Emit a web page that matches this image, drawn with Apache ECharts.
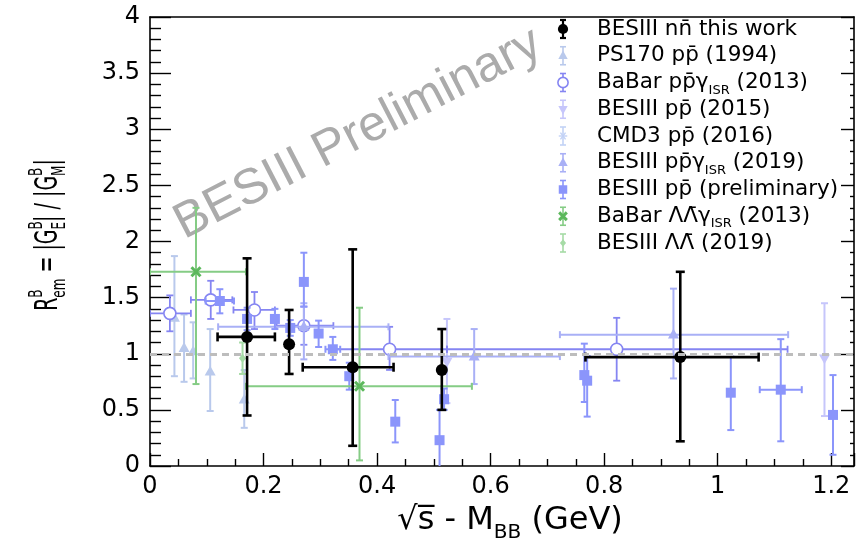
<!DOCTYPE html>
<html>
<head>
<meta charset="utf-8">
<script src="https://cdn.jsdelivr.net/npm/echarts@6/dist/echarts.min.js"></script>
<style>
html, body { margin: 0; padding: 0; background: #fff; }
#chart { width: 860px; height: 543px; }
</style>
</head>
<body>
<div id="chart"></div>
<script>
// each point: [x, y, xLow, xHigh, yLow, yHigh]
const nnThisWork = [
  [0.171, 1.15, 0.119, 0.220, 0.45, 1.85],
  [0.245, 1.085, 0.245, 0.245, 0.82, 1.39],
  [0.357, 0.88, 0.269, 0.429, 0.18, 1.93],
  [0.514, 0.856, 0.514, 0.514, 0.50, 1.22],
  [0.934, 0.97, 0.767, 1.072, 0.22, 1.73]
];
const ps170 = [
  [0.043, 1.32, 0.043, 0.043, 0.80, 1.87],
  [0.060, 1.05, 0.060, 0.060, 0.75, 1.35],
  [0.076, 1.02, 0.076, 0.076, 0.78, 1.28],
  [0.106, 0.84, 0.106, 0.106, 0.49, 1.22],
  [0.166, 0.59, 0.166, 0.166, 0.34, 0.855]
];
const babarPP = [
  [0.035, 1.36, 0.000, 0.072, 1.20, 1.52],
  [0.107, 1.48, 0.072, 0.145, 1.31, 1.65],
  [0.184, 1.39, 0.147, 0.220, 1.22, 1.55],
  [0.271, 1.25, 0.223, 0.323, 1.08, 1.42],
  [0.422, 1.04, 0.323, 0.523, 0.856, 1.24],
  [0.822, 1.04, 0.523, 1.123, 0.76, 1.32]
];
const besiii2015 = [
  [0.523, 0.93, 0.523, 0.523, 0.56, 1.31],
  [1.188, 0.96, 1.188, 1.188, 0.445, 1.45]
];
const cmd3 = [];
const besiiiIsr2019 = [
  [0.271, 1.24, 0.120, 0.420, 0.95, 1.45],
  [0.571, 0.975, 0.420, 0.722, 0.73, 1.22],
  [0.922, 1.17, 0.722, 1.124, 0.78, 1.58]
];
const besiiiPrelim = [
  [0.123, 1.47, 0.098, 0.148, 1.36, 1.575],
  [0.171, 1.31, 0.171, 0.171, 1.21, 1.41],
  [0.220, 1.31, 0.220, 0.220, 1.22, 1.40],
  [0.247, 1.23, 0.247, 0.247, 1.16, 1.30],
  [0.271, 1.64, 0.271, 0.271, 1.42, 1.90],
  [0.297, 1.18, 0.297, 0.297, 1.06, 1.295],
  [0.322, 1.04, 0.309, 0.335, 0.945, 1.15],
  [0.351, 0.80, 0.351, 0.351, 0.68, 0.92],
  [0.432, 0.395, 0.432, 0.432, 0.21, 0.588],
  [0.510, 0.23, 0.510, 0.510, -0.1, 0.50],
  [0.518, 0.595, 0.518, 0.518, 0.50, 0.69],
  [0.765, 0.81, 0.765, 0.765, 0.57, 1.09],
  [0.770, 0.76, 0.770, 0.770, 0.44, 0.98],
  [1.023, 0.653, 1.023, 1.023, 0.32, 0.975],
  [1.111, 0.68, 1.074, 1.148, 0.22, 1.13],
  [1.203, 0.455, 1.203, 1.203, 0.10, 0.81]
];
const babarLL = [
  [0.081, 1.73, 0.000, 0.169, 0.73, 2.30],
  [0.369, 0.71, 0.169, 0.567, 0.05, 1.41]
];
const besiiiLL2019 = [
  [0.163, 0.96, 0.163, 0.163, 0.82, 1.10]
];
const refValue = 1;

const xTickLabels = ['0', '0.2', '0.4', '0.6', '0.8', '1', '1.2'];
const yTickLabels = ['0', '0.5', '1', '1.5', '2', '2.5', '3', '3.5', '4'];

const legendRows = [
  [['BESIII nn\u0304 this work']],
  [['PS170 pp\u0304 (1994)']],
  [['BaBar pp\u0304\u03b3'], ['ISR', 'sub'], [' (2013)']],
  [['BESIII pp\u0304 (2015)']],
  [['CMD3 pp\u0304 (2016)']],
  [['BESIII pp\u0304\u03b3'], ['ISR', 'sub'], [' (2019)']],
  [['BESIII pp\u0304 (preliminary)']],
  [['BaBar \u039b\u039b\u0304\u03b3'], ['ISR', 'sub'], [' (2013)']],
  [['BESIII \u039b\u039b\u0304 (2019)']]
];

// 画图用的样式（和数据分开）
const sets = [
  { key: 'nn', data: nnThisWork, color: '#000000', marker: 'dot', size: 6, lw: 2.6, cap: 4.5, leg: 0 },
  { key: 'ps170', data: ps170, color: '#b9c9ec', marker: 'up', size: 5.5, lw: 2, cap: 3.5, leg: 1 },
  { key: 'babarPP', data: babarPP, color: '#8585f2', marker: 'ring', size: 6, lw: 1.8, cap: 3.5, leg: 2 },
  { key: 'bes15', data: besiii2015, color: '#c6c6fb', marker: 'down', size: 5.5, lw: 2, cap: 3.5, leg: 3 },
  { key: 'cmd3', data: cmd3, color: '#c2d2f6', marker: 'star', size: 5, lw: 2, cap: 3.5, leg: 4 },
  { key: 'bes19', data: besiiiIsr2019, color: '#a9b0f6', marker: 'up', size: 5.5, lw: 2, cap: 3.5, leg: 5 },
  { key: 'besPre', data: besiiiPrelim, color: '#8b95fb', marker: 'square', size: 5, lw: 2, cap: 3.5, leg: 6 },
  { key: 'babarLL', data: babarLL, color: '#85cc85', marker: 'cross', size: 4.5, lw: 2, cap: 3.5, leg: 7 },
  { key: 'besLL', data: besiiiLL2019, color: '#a6dba6', marker: 'diamond', size: 4.5, lw: 2, cap: 3.5, leg: 8 }
];
const drawOrder = ['ps170', 'cmd3', 'bes15', 'babarPP', 'bes19', 'besPre', 'babarLL', 'besLL', 'ref', 'nn'];

function markerEl(kind, cx, cy, s, color) {
  switch (kind) {
    case 'dot':
      return { type: 'circle', shape: { cx: cx, cy: cy, r: s }, style: { fill: color } };
    case 'ring':
      return { type: 'circle', shape: { cx: cx, cy: cy, r: s }, style: { fill: '#fff', stroke: color, lineWidth: 1.6 } };
    case 'up':
      return { type: 'polygon', shape: { points: [[cx, cy - s * 1.1], [cx - s, cy + s * 0.7], [cx + s, cy + s * 0.7]] }, style: { fill: color } };
    case 'down':
      return { type: 'polygon', shape: { points: [[cx, cy + s * 1.1], [cx - s, cy - s * 0.7], [cx + s, cy - s * 0.7]] }, style: { fill: color } };
    case 'square':
      return { type: 'rect', shape: { x: cx - s, y: cy - s, width: 2 * s, height: 2 * s }, style: { fill: color } };
    case 'diamond':
      return { type: 'polygon', shape: { points: [[cx, cy - s], [cx + s * 0.8, cy], [cx, cy + s], [cx - s * 0.8, cy]] }, style: { fill: color } };
    case 'cross':
      return {
        type: 'group', children: [
          { type: 'line', shape: { x1: cx - s, y1: cy - s, x2: cx + s, y2: cy + s }, style: { stroke: '#5cb85c', lineWidth: 3 } },
          { type: 'line', shape: { x1: cx - s, y1: cy + s, x2: cx + s, y2: cy - s }, style: { stroke: '#5cb85c', lineWidth: 3 } }
        ]
      };
    case 'star':
      return {
        type: 'group', children: [
          { type: 'line', shape: { x1: cx - s, y1: cy, x2: cx + s, y2: cy }, style: { stroke: color, lineWidth: 1.4 } },
          { type: 'line', shape: { x1: cx - s * 0.6, y1: cy - s * 0.8, x2: cx + s * 0.6, y2: cy + s * 0.8 }, style: { stroke: color, lineWidth: 1.4 } },
          { type: 'line', shape: { x1: cx - s * 0.6, y1: cy + s * 0.8, x2: cx + s * 0.6, y2: cy - s * 0.8 }, style: { stroke: color, lineWidth: 1.4 } }
        ]
      };
  }
  return null;
}

function seg(x1, y1, x2, y2, st) {
  return { type: 'line', shape: { x1: x1, y1: y1, x2: x2, y2: y2 }, style: st };
}

function errRender(set) {
  return function (params, api) {
    const x = api.value(0), y = api.value(1);
    const p = api.coord([x, y]);
    const xl = api.coord([api.value(2), y])[0];
    const xh = api.coord([api.value(3), y])[0];
    const yl = api.coord([x, api.value(4)])[1];
    const yh = api.coord([x, api.value(5)])[1];
    const st = { stroke: set.color, lineWidth: set.lw };
    const c = set.cap;
    const kids = [];
    if (xh - xl > 1) {
      kids.push(seg(xl, p[1], xh, p[1], st));
      kids.push(seg(xl, p[1] - c, xl, p[1] + c, st));
      kids.push(seg(xh, p[1] - c, xh, p[1] + c, st));
    }
    kids.push(seg(p[0], yl, p[0], yh, st));
    kids.push(seg(p[0] - c, yl, p[0] + c, yl, st));
    kids.push(seg(p[0] - c, yh, p[0] + c, yh, st));
    kids.push(markerEl(set.marker, p[0], p[1], set.size, set.color));
    return { type: 'group', children: kids };
  };
}

// 文字宽度，用来排上下标
const measureCtx = document.createElement('canvas').getContext('2d');
function textWidth(s, size, family) {
  measureCtx.font = size + 'px ' + family;
  return measureCtx.measureText(s).width;
}
function layoutPieces(parts, size, family, centered) {
  let w = 0;
  const items = parts.map(function (pt) {
    const kind = pt[1];
    const fs = kind ? Math.round(size * 0.62) : size;
    const dy = kind === 'sub' ? size * 0.36 : (kind === 'supz' ? -size * 0.40 : 0);
    const it = { text: pt[0], fs: fs, dy: dy, x: w };
    if (kind !== 'supz') w += textWidth(pt[0], fs, family);
    return it;
  });
  const off = centered ? -w / 2 : 0;
  return items.map(function (it) {
    return {
      type: 'text', x: it.x + off, y: it.dy,
      style: { text: it.text, fontSize: it.fs, fontFamily: family, fill: '#000', align: 'left', verticalAlign: 'middle' }
    };
  });
}

const FONT = '"DejaVu Sans"';
const graphics = [];

// 水印
graphics.push({
  type: 'text', x: 358, y: 134, rotation: 0.478, z: 0, silent: true,
  style: { text: 'BESIII Preliminary', fontSize: 50, fontFamily: '"Liberation Sans"', fill: '#ababab', align: 'center', verticalAlign: 'middle' }
});

// 坐标轴标题（纵向的字在原图里被横向拉宽了，所以里面再套一层缩放）
graphics.push({
  type: 'group', x: 49, y: 235, rotation: Math.PI / 2, z: 50,
  children: [{
    type: 'group', scaleX: 1, scaleY: 1.65,
    children: layoutPieces([['R'], ['B', 'supz'], ['em', 'sub'], [' = |G'], ['B', 'supz'], ['E', 'sub'], ['| / |G'], ['B', 'supz'], ['M', 'sub'], ['|']], 19, FONT, true)
  }]
});
graphics.push({
  type: 'group', x: 510, y: 521, z: 50,
  children: layoutPieces([['\u221as\u0305 - M'], ['BB', 'sub'], [' (GeV)']], 32, FONT, true)
});

// 图例
const legX = 563, legTextX = 597, legY0 = 29, legStep = 26.75;
sets.forEach(function (set) {
  const cy = legY0 + set.leg * legStep;
  const st = { stroke: set.color, lineWidth: set.lw > 2 ? 2.2 : 1.6 };
  graphics.push({
    type: 'group', z: 100,
    children: [
      seg(legX, cy - 9, legX, cy + 9, st),
      seg(legX - 3, cy - 9, legX + 3, cy - 9, st),
      seg(legX - 3, cy + 9, legX + 3, cy + 9, st),
      markerEl(set.marker, legX, cy, set.size * 0.85, set.color)
    ]
  });
  graphics.push({
    type: 'group', x: legTextX, y: cy, z: 100,
    children: layoutPieces(legendRows[set.leg], 21.5, FONT, false)
  });
});

const series = drawOrder.map(function (key) {
  if (key === 'ref') {
    return {
      type: 'line', data: [], silent: true,
      markLine: {
        symbol: 'none', silent: true, label: { show: false },
        lineStyle: { color: '#bdbdbd', type: [7, 5], width: 3 },
        data: [{ yAxis: refValue }]
      }
    };
  }
  const set = sets.find(function (s) { return s.key === key; });
  return {
    type: 'custom', name: key, data: set.data, clip: true,
    encode: { x: 0, y: 1 },
    renderItem: errRender(set)
  };
});

const tickStyle = { color: '#000', width: 1.4 };
const chart = echarts.init(document.getElementById('chart'));
chart.setOption({
  animation: false,
  backgroundColor: '#fff',
  grid: { left: 150, right: 6, top: 17, bottom: 77 },
  xAxis: [{
    type: 'value', min: 0, max: 1.24, interval: 0.2,
    axisLine: { show: true, onZero: false, lineStyle: { color: '#000', width: 1.6 } },
    axisTick: { inside: true, length: 13, lineStyle: tickStyle },
    minorTick: { show: true, splitNumber: 4, length: 7, lineStyle: tickStyle },
    splitLine: { show: false },
    axisLabel: {
      color: '#000', fontSize: 24, fontFamily: FONT, margin: 9, showMaxLabel: false,
      formatter: function (v) {
        const i = Math.round(v / 0.2);
        return Math.abs(v - i * 0.2) < 1e-6 && xTickLabels[i] !== undefined ? xTickLabels[i] : '';
      }
    }
  }, {
    type: 'value', position: 'top', min: 0, max: 1.24,
    axisLine: { show: true, onZero: false, lineStyle: { color: '#000', width: 1.6 } },
    axisTick: { show: false }, axisLabel: { show: false }, splitLine: { show: false }
  }],
  yAxis: [{
    type: 'value', min: 0, max: 4, interval: 0.5,
    axisLine: { show: true, onZero: false, lineStyle: { color: '#000', width: 1.6 } },
    axisTick: { inside: true, length: 21, lineStyle: tickStyle },
    minorTick: { show: true, splitNumber: 5, length: 11, lineStyle: tickStyle },
    splitLine: { show: false },
    axisLabel: {
      color: '#000', fontSize: 24, fontFamily: FONT, margin: 10,
      formatter: function (v) {
        const i = Math.round(v / 0.5);
        return yTickLabels[i] !== undefined ? yTickLabels[i] : '';
      }
    }
  }, {
    type: 'value', position: 'right', min: 0, max: 4, interval: 0.5,
    axisLine: { show: true, onZero: false, lineStyle: { color: '#000', width: 1.6 } },
    axisTick: { inside: true, length: 13, lineStyle: tickStyle },
    minorTick: { show: true, splitNumber: 5, length: 4, lineStyle: tickStyle },
    axisLabel: { show: false }, splitLine: { show: false }
  }],
  graphic: graphics,
  series: series
});
window.addEventListener('resize', function () { chart.resize(); });
</script>
</body>
</html>
